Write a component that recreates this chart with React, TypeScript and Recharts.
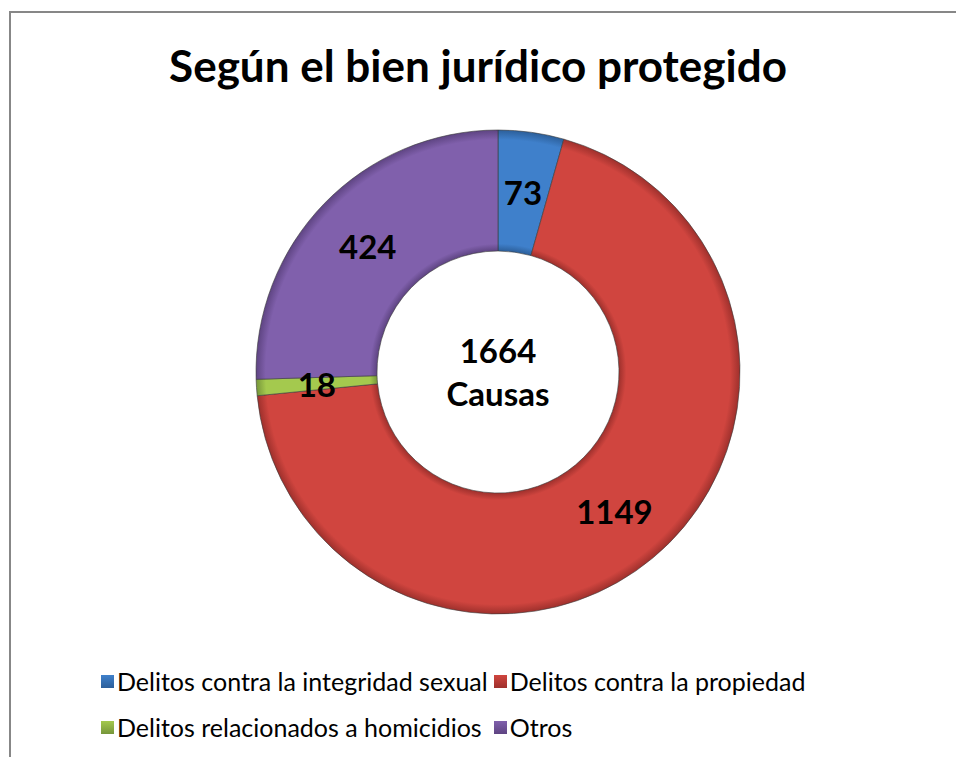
import React from 'react';
import { PieChart, Pie, Cell } from 'recharts';

const categories = [
  'Delitos contra la integridad sexual',
  'Delitos contra la propiedad',
  'Delitos relacionados a homicidios',
  'Otros',
];
const causas = [73, 1149, 18, 424];
const sliceColors = ['#3F80CB', '#D0453F', '#A4C94E', '#8060AC'];
const edgeColors = ['#2C5F9A', '#9E302C', '#76963A', '#5E4482'];
const totalLabel = ['1664', 'Causas'];
const title = 'Según el bien jurídico protegido';

const data = categories.map((name, i) => ({ name, value: causas[i] }));

const RAD = Math.PI / 180;
const FONT = 'Lato, "Open Sans", sans-serif';
const CX = 498;
const CY = 372;
const R_OUT = 242;
const R_IN = 121;

// value labels sit in the middle of the ring band
const renderLabel = (props: any) => {
  const { cx, cy, midAngle, innerRadius, outerRadius, value } = props;
  const r = (innerRadius + outerRadius) / 2;
  const x = cx + r * Math.cos(-midAngle * RAD);
  const y = cy + r * Math.sin(-midAngle * RAD);
  return (
    <text
      x={x}
      y={y}
      textAnchor="middle"
      dominantBaseline="central"
      fontFamily={FONT}
      fontWeight={700}
      fontSize={33}
      fill="#000"
    >
      {value}
    </text>
  );
};

export default function App() {
  return (
    <div
      style={{
        position: 'absolute',
        left: 0,
        top: 0,
        width: 956,
        height: 757,
        overflow: 'hidden',
        background: '#fff',
      }}
    >
      <div
        style={{
          position: 'absolute',
          left: 9,
          top: 11,
          width: 960,
          height: 760,
          borderTop: '2px solid #878787',
          borderLeft: '2px solid #878787',
        }}
      />
      <div
        style={{
          position: 'absolute',
          left: 0,
          top: 38,
          width: 956,
          textAlign: 'center',
          fontFamily: FONT,
          fontWeight: 700,
          fontSize: 44,
          lineHeight: '54px',
          color: '#000',
        }}
      >
        {title}
      </div>
      <div style={{ position: 'absolute', left: 0, top: 0 }}>
        <PieChart width={956} height={757} margin={{ top: 0, right: 0, bottom: 0, left: 0 }}>
          <defs>
            {sliceColors.map((c, i) => (
              <radialGradient
                key={c}
                id={`ring-${i}`}
                gradientUnits="userSpaceOnUse"
                cx={CX}
                cy={CY}
                r={R_OUT}
              >
                <stop offset="50%" stopColor={edgeColors[i]} />
                <stop offset="53%" stopColor={sliceColors[i]} />
                <stop offset="96%" stopColor={sliceColors[i]} />
                <stop offset="100%" stopColor={edgeColors[i]} />
              </radialGradient>
            ))}
          </defs>
          <Pie
            data={data}
            dataKey="value"
            nameKey="name"
            cx={CX}
            cy={CY}
            innerRadius={R_IN}
            outerRadius={R_OUT}
            startAngle={90}
            endAngle={-270}
            stroke="#3a3a3a"
            strokeWidth={0.6}
            label={renderLabel}
            labelLine={false}
            isAnimationActive={false}
          >
            {data.map((d, i) => (
              <Cell key={d.name} fill={`url(#ring-${i})`} />
            ))}
          </Pie>
        </PieChart>
      </div>
      <div
        style={{
          position: 'absolute',
          left: 398,
          top: 329,
          width: 200,
          textAlign: 'center',
          fontFamily: FONT,
          fontWeight: 700,
          fontSize: 33,
          lineHeight: '43px',
          color: '#000',
        }}
      >
        {totalLabel.map((t) => (
          <div key={t}>{t}</div>
        ))}
      </div>
      <div
        style={{
          position: 'absolute',
          left: 101,
          top: 665,
          width: 760,
          display: 'flex',
          flexWrap: 'wrap',
          rowGap: 14,
          fontFamily: FONT,
          fontSize: 25,
          lineHeight: '32px',
          color: '#000',
        }}
      >
        {categories.map((name, i) => (
          <div key={name} style={{ display: 'flex', alignItems: 'center', marginRight: i === 2 ? 12 : 6 }}>
            <span
              style={{
                display: 'inline-block',
                width: 13,
                height: 13,
                marginRight: 3,
                background: `linear-gradient(180deg, ${sliceColors[i]}, ${edgeColors[i]})`,
              }}
            />
            <span>{name}</span>
          </div>
        ))}
      </div>
    </div>
  );
}
